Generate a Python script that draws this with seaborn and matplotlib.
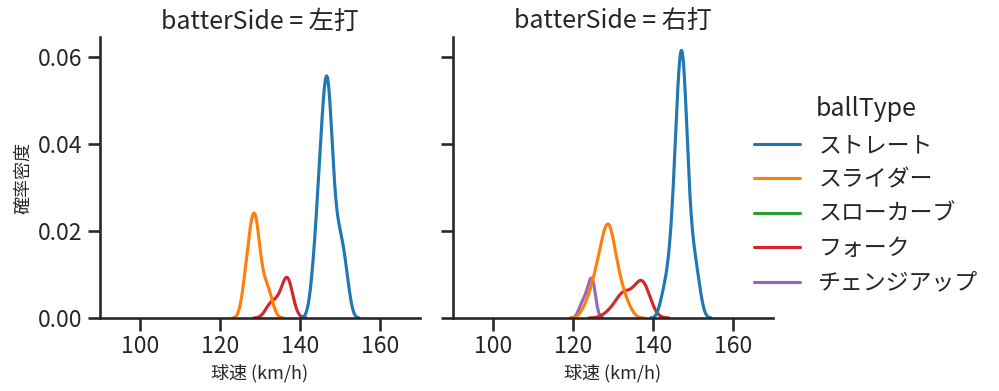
import numpy as np
import pandas as pd
import matplotlib
matplotlib.use("Agg")
import matplotlib.pyplot as plt
import seaborn as sns

# pitch speeds (km/h) and how many pitches at each speed
left_straight_speed = [143, 144, 145, 146, 147, 148, 149, 150, 151, 152]
left_straight_count = [2, 5, 9, 13, 16, 9, 5, 5, 4, 2]
left_slider_speed = [126, 127, 128, 129, 130, 131, 132, 133]
left_slider_count = [2, 4, 6, 7, 3, 2, 2, 1]
left_fork_speed = [132, 133, 134, 135, 136, 137, 138]
left_fork_count = [1, 1, 1, 1, 2, 4, 1]
left_slowcurve_speed = [112]
left_slowcurve_count = [1]

right_straight_speed = [142, 143, 144, 145, 146, 147, 148, 149, 150, 151, 152]
right_straight_count = [1, 2, 3, 6, 12, 17, 14, 6, 4, 3, 1]
right_slider_speed = [123, 124, 125, 126, 127, 128, 129, 130, 131, 132, 133, 134]
right_slider_count = [1, 1, 2, 3, 4, 5, 7, 4, 3, 2, 1, 1]
right_fork_speed = [129, 131, 132, 133, 134, 135, 136, 137, 138, 139]
right_fork_count = [1, 1, 2, 2, 1, 1, 2, 3, 3, 1]
right_changeup_speed = [122, 123, 124, 125]
right_changeup_count = [1, 1, 2, 3]

ball_types = ["ストレート", "スライダー", "スローカーブ", "フォーク", "チェンジアップ"]
sides = ["左打", "右打"]


def make_rows(side, ball, speeds, counts):
    return pd.DataFrame({
        "batterSide": side,
        "ballType": ball,
        "球速": np.repeat(speeds, counts).astype(float),
    })


df = pd.concat([
    make_rows("左打", "ストレート", left_straight_speed, left_straight_count),
    make_rows("左打", "スライダー", left_slider_speed, left_slider_count),
    make_rows("左打", "フォーク", left_fork_speed, left_fork_count),
    make_rows("左打", "スローカーブ", left_slowcurve_speed, left_slowcurve_count),
    make_rows("右打", "ストレート", right_straight_speed, right_straight_count),
    make_rows("右打", "スライダー", right_slider_speed, right_slider_count),
    make_rows("右打", "フォーク", right_fork_speed, right_fork_count),
    make_rows("右打", "チェンジアップ", right_changeup_speed, right_changeup_count),
], ignore_index=True)

sns.set_theme(style="ticks", context="talk")
plt.rcParams["font.family"] = ["Noto Sans CJK JP", "DejaVu Sans"]

g = sns.displot(data=df, x="球速", hue="ballType", col="batterSide",
                kind="kde", hue_order=ball_types, col_order=sides,
                palette="tab10", height=3.9, aspect=0.9, warn_singular=False)
g.set_axis_labels("球速 (km/h)", "確率密度", fontsize=13)
g.set(xlim=(90, 170), xticks=[100, 120, 140, 160])

fig = g.figure
fig.set_size_inches(9.99, 3.91)
fig.subplots_adjust(left=100 / 999, right=773 / 999, bottom=1 - 318 / 391,
                    top=1 - 37 / 391, wspace=33 / 320)
fig.savefig("out.png", dpi=100)
